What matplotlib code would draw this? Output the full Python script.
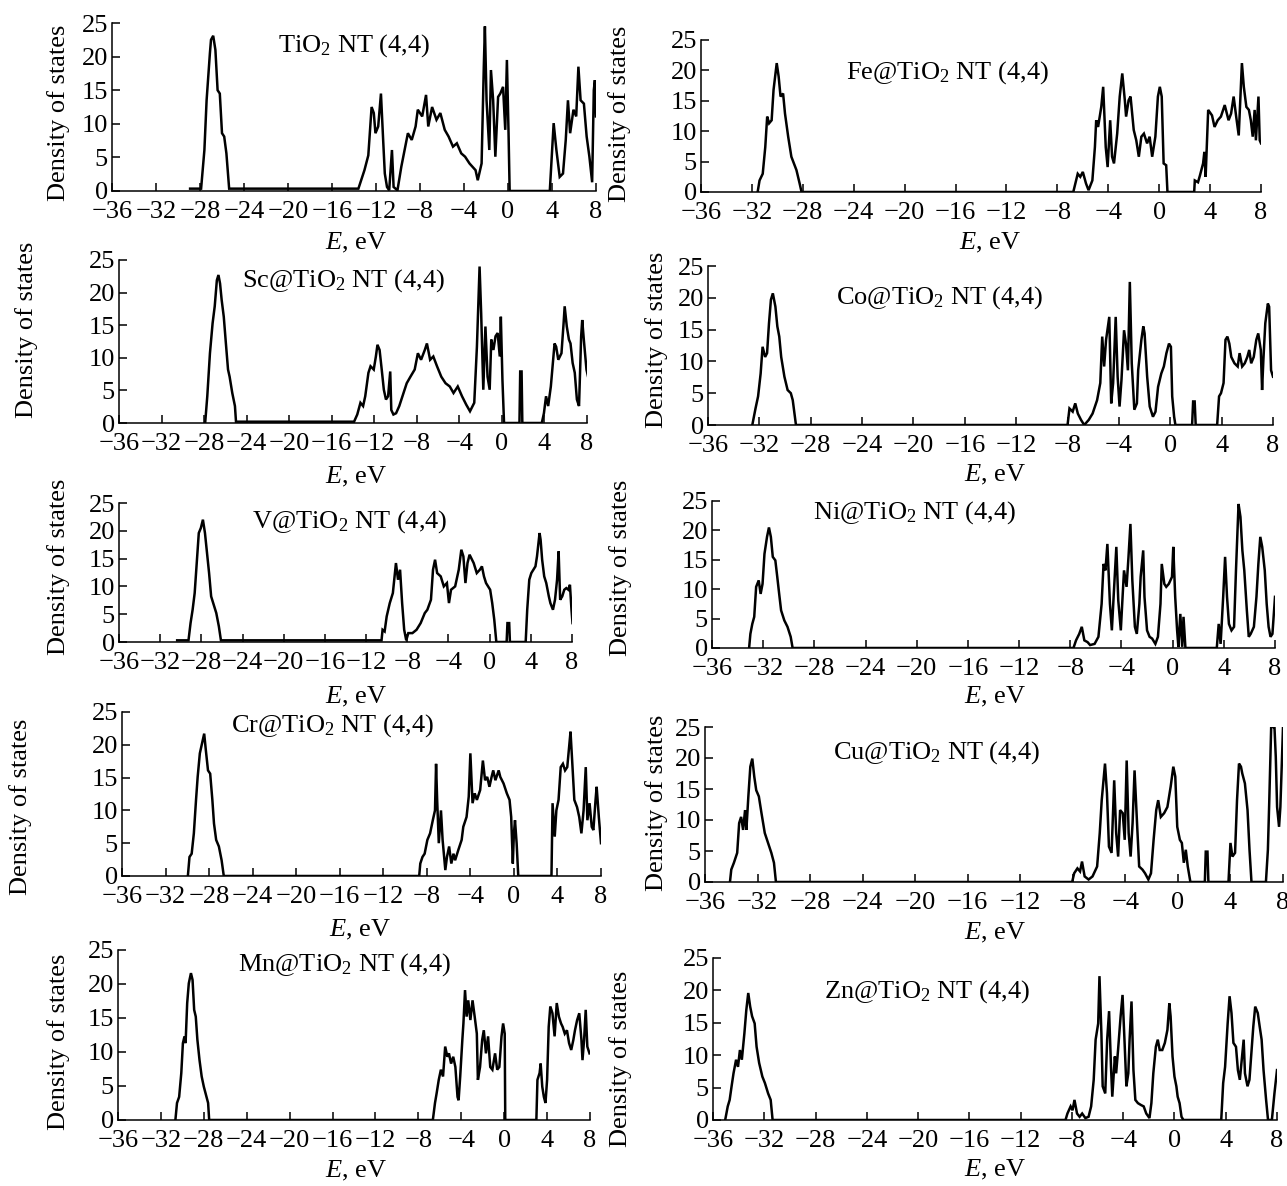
import numpy as np
import matplotlib.pyplot as plt

plt.rcParams["font.family"] = "Liberation Serif"
plt.rcParams["mathtext.fontset"] = "custom"
plt.rcParams["mathtext.rm"] = "Liberation Serif"
plt.rcParams["mathtext.it"] = "Liberation Serif:italic"
plt.rcParams["font.size"] = 19

W, H = 1287, 1186  # px, dpi 100

# ---------------- data: (E [eV], DOS) ----------------
TIO2 = [(-28.9, 0.35), (-27.9, 0.35), (-27.6, 6.1), (-27.4, 13.5), (-27.1, 20.5), (-27.0, 22.5), (-26.8, 23.1),
        (-26.6, 21.0), (-26.4, 15.0), (-26.2, 14.5), (-26.0, 8.6), (-25.8, 8.1), (-25.6, 5.6), (-25.35, 0.35),
        (-13.6, 0.35), (-13.05, 3.1), (-12.7, 5.3), (-12.4, 12.5), (-12.2, 11.6), (-12.05, 8.6), (-11.8, 9.6),
        (-11.55, 14.5), (-11.35, 7.6), (-11.2, 2.6), (-11.0, 0.6), (-10.8, 0.1), (-10.55, 6.1), (-10.4, 0.6),
        (-10.05, 0.1), (-9.7, 3.6), (-9.1, 8.6), (-8.75, 7.6), (-8.4, 9.6), (-8.2, 12.1), (-7.8, 11.1),
        (-7.45, 14.3), (-7.25, 9.6), (-6.9, 12.5), (-6.5, 10.6), (-6.15, 11.6), (-5.75, 9.1), (-5.4, 8.1),
        (-5.0, 6.6), (-4.65, 7.1), (-4.25, 5.6), (-3.9, 5.1), (-3.5, 4.1), (-2.95, 3.1), (-2.75, 1.6),
        (-2.4, 4.1), (-2.2, 18.5), (-2.1, 24.5), (-1.95, 13.5), (-1.7, 6.1), (-1.55, 18.0), (-1.35, 13.5),
        (-1.15, 5.1), (-0.9, 14.0), (-0.7, 14.5), (-0.45, 15.5), (-0.25, 9.1), (-0.1, 19.5), (0.05, 8.6),
        (0.15, 0.0), (3.8, 0.0), (4.15, 10.1), (4.4, 6.1), (4.7, 2.1), (5.0, 2.6), (5.25, 7.6), (5.45, 13.5),
        (5.65, 8.6), (5.95, 12.1), (6.2, 11.1), (6.4, 18.5), (6.6, 13.5), (6.9, 13.0), (7.15, 8.1), (7.4, 5.1),
        (7.65, 1.3), (7.8, 15.0), (7.9, 16.5), (8.0, 11.1)]

FE = [(-31.55, 0.0), (-31.4, 1.9), (-31.15, 3.0), (-30.95, 7.4), (-30.8, 12.4), (-30.65, 11.3), (-30.45, 11.8),
      (-30.3, 16.8), (-30.05, 21.2), (-29.9, 19.0), (-29.75, 15.7), (-29.55, 16.2), (-29.4, 12.9), (-29.15, 9.1),
      (-28.9, 5.8), (-28.7, 4.7), (-28.5, 3.6), (-28.25, 1.4), (-28.1, 0.0),
      (-6.75, 0.0), (-6.4, 3.0), (-6.2, 2.5), (-6.0, 3.3), (-5.75, 1.4), (-5.55, 0.3), (-5.25, 1.9), (-5.05, 7.4),
      (-4.95, 11.8), (-4.8, 10.7), (-4.55, 14.0), (-4.4, 17.3), (-4.2, 7.4), (-4.05, 4.1), (-3.85, 11.8),
      (-3.7, 5.8), (-3.55, 4.7), (-3.3, 9.6), (-3.1, 15.7), (-2.9, 19.5), (-2.7, 15.1), (-2.6, 12.4), (-2.4, 15.1),
      (-2.25, 15.7), (-2.0, 10.2), (-1.8, 8.5), (-1.6, 5.8), (-1.4, 9.1), (-1.2, 9.6), (-0.95, 8.0), (-0.75, 9.1),
      (-0.55, 5.8), (-0.3, 9.1), (-0.1, 15.7), (0.05, 17.3), (0.2, 15.7), (0.35, 4.7), (0.55, 4.4), (0.65, 0.0),
      (2.75, 0.0), (2.8, 1.9), (3.05, 1.6), (3.2, 2.7), (3.45, 4.7), (3.55, 6.6), (3.65, 2.5), (3.85, 13.5),
      (4.15, 12.6), (4.35, 10.7), (4.6, 11.8), (4.85, 12.4), (5.15, 14.3), (5.45, 11.8), (5.65, 12.9),
      (5.85, 15.7), (6.05, 12.4), (6.25, 9.3), (6.5, 21.2), (6.65, 17.3), (6.85, 14.0), (7.05, 13.5),
      (7.2, 11.8), (7.35, 9.1), (7.5, 13.5), (7.6, 8.5), (7.8, 15.7), (7.9, 8.5), (8.0, 8.0)]

SC = [(-27.9, 0.0), (-27.7, 4.1), (-27.45, 10.7), (-27.2, 15.3), (-27.0, 17.9), (-26.8, 21.9), (-26.65, 22.7),
      (-26.5, 21.4), (-26.35, 18.9), (-26.15, 16.3), (-25.95, 12.2), (-25.75, 8.2), (-25.6, 7.1), (-25.35, 4.6),
      (-25.1, 2.6), (-25.0, 0.2),
      (-13.9, 0.2), (-13.6, 1.3), (-13.3, 3.1), (-13.05, 2.6), (-12.85, 4.1), (-12.55, 7.7), (-12.35, 8.7),
      (-12.05, 8.2), (-11.85, 10.2), (-11.7, 12.0), (-11.5, 11.2), (-11.3, 8.2), (-11.1, 5.1), (-10.9, 3.6),
      (-10.7, 4.1), (-10.5, 7.9), (-10.4, 2.0), (-10.2, 1.3), (-9.95, 1.5), (-9.65, 2.6), (-9.35, 4.1),
      (-8.95, 6.1), (-8.6, 7.1), (-8.2, 8.2), (-7.9, 10.7), (-7.6, 9.7), (-7.25, 11.2), (-7.05, 12.2),
      (-6.75, 9.7), (-6.45, 10.2), (-6.1, 8.7), (-5.7, 7.1), (-5.3, 6.1), (-4.9, 5.6), (-4.55, 4.6),
      (-4.15, 5.6), (-3.75, 4.1), (-3.35, 2.8), (-3.0, 1.8), (-2.6, 3.1), (-2.35, 11.7), (-2.1, 24.0),
      (-1.95, 16.8), (-1.75, 5.1), (-1.55, 14.8), (-1.35, 7.1), (-1.15, 5.1), (-1.0, 12.8), (-0.8, 11.2),
      (-0.6, 13.3), (-0.4, 13.8), (-0.2, 10.2), (-0.1, 16.3), (0.05, 6.6), (0.2, 0.0),
      (1.65, 0.0), (1.72, 7.9), (1.85, 7.9), (1.92, 0.0),
      (3.75, 0.0), (3.95, 1.5), (4.15, 4.1), (4.35, 2.6), (4.6, 5.6), (4.95, 12.2), (5.1, 11.7), (5.3, 9.7),
      (5.6, 10.7), (5.8, 15.3), (5.9, 17.9), (6.1, 14.8), (6.3, 12.8), (6.45, 12.2), (6.65, 9.2), (6.85, 7.7),
      (7.05, 3.6), (7.25, 2.6), (7.45, 13.3), (7.55, 15.8), (7.7, 12.8), (7.95, 8.2), (8.1, 7.1)]

CO = [(-32.55, 0.0), (-32.3, 2.6), (-32.1, 4.5), (-31.9, 8.1), (-31.75, 12.3), (-31.55, 10.7), (-31.4, 11.3),
      (-31.25, 16.0), (-31.1, 19.7), (-30.95, 20.7), (-30.75, 18.6), (-30.6, 15.5), (-30.45, 13.9),
      (-30.3, 10.7), (-30.05, 7.6), (-29.8, 5.5), (-29.55, 5.0), (-29.4, 3.9), (-29.15, 0.0),
      (-8.0, 0.0), (-7.85, 2.6), (-7.6, 2.1), (-7.4, 3.4), (-7.2, 1.8), (-6.95, 0.8), (-6.7, 0.0), (-6.35, 0.8),
      (-6.05, 1.8), (-5.7, 3.9), (-5.45, 6.6), (-5.3, 13.9), (-5.15, 9.2), (-5.0, 13.4), (-4.75, 17.0),
      (-4.6, 3.4), (-4.45, 6.6), (-4.25, 17.0), (-4.1, 7.6), (-3.95, 2.9), (-3.8, 7.1), (-3.6, 14.9),
      (-3.45, 12.8), (-3.3, 8.6), (-3.15, 22.5), (-3.0, 9.7), (-2.8, 2.4), (-2.6, 3.4), (-2.5, 8.6),
      (-2.25, 13.4), (-2.1, 15.5), (-2.0, 14.4), (-1.8, 7.6), (-1.6, 2.9), (-1.35, 1.3), (-1.15, 2.1),
      (-0.95, 6.0), (-0.7, 8.1), (-0.5, 9.2), (-0.3, 11.3), (-0.1, 12.8), (0.05, 12.3), (0.15, 4.5),
      (0.3, 1.3), (0.4, 0.0),
      (1.7, 0.0), (1.78, 3.7), (1.9, 3.7), (1.98, 0.0),
      (3.65, 0.0), (3.8, 4.5), (3.95, 5.0), (4.15, 6.6), (4.3, 13.4), (4.45, 13.9), (4.6, 12.8), (4.75, 10.7),
      (5.0, 9.7), (5.25, 9.2), (5.4, 11.3), (5.6, 9.2), (5.8, 9.7), (6.0, 10.7), (6.15, 11.8), (6.3, 9.7),
      (6.5, 10.7), (6.7, 13.4), (6.85, 14.4), (7.05, 11.8), (7.15, 5.5), (7.25, 10.2), (7.4, 16.0),
      (7.6, 19.1), (7.7, 18.6), (7.85, 8.6), (8.0, 7.6)]

V = [(-30.35, 0.3), (-29.25, 0.3), (-29.05, 3.4), (-28.85, 5.8), (-28.65, 8.8), (-28.45, 14.2), (-28.25, 19.6),
     (-28.05, 20.5), (-27.85, 22.0), (-27.65, 19.6), (-27.45, 16.0), (-27.25, 12.4), (-27.05, 8.2),
     (-26.85, 7.0), (-26.55, 5.2), (-26.3, 2.8), (-26.1, 0.3),
     (-10.5, 0.3), (-10.4, 2.2), (-10.2, 1.9), (-10.0, 4.6), (-9.7, 7.0), (-9.4, 8.8), (-9.1, 14.2),
     (-8.9, 11.2), (-8.7, 13.0), (-8.5, 7.0), (-8.3, 2.2), (-8.1, 0.3), (-7.9, 1.6), (-7.5, 1.6), (-7.1, 2.2),
     (-6.7, 3.4), (-6.3, 5.2), (-6.05, 5.8), (-5.7, 7.6), (-5.5, 13.0), (-5.3, 14.8), (-5.1, 12.4),
     (-4.75, 11.8), (-4.45, 10.0), (-4.15, 10.6), (-3.95, 7.0), (-3.75, 9.4), (-3.35, 10.0), (-3.0, 13.0),
     (-2.75, 16.6), (-2.55, 15.4), (-2.35, 10.6), (-2.15, 14.2), (-1.95, 15.7), (-1.55, 14.2), (-1.25, 12.4),
     (-0.95, 13.0), (-0.75, 13.6), (-0.55, 11.8), (-0.35, 10.6), (0.05, 9.4), (0.25, 7.0), (0.45, 4.0),
     (0.65, 0.0),
     (1.65, 0.0), (1.73, 3.4), (1.9, 3.4), (1.97, 0.0),
     (3.5, 0.0), (3.65, 5.8), (3.85, 11.2), (4.05, 12.4), (4.25, 13.0), (4.45, 13.6), (4.6, 15.4),
     (4.85, 19.6), (4.95, 18.4), (5.1, 14.8), (5.3, 11.8), (5.5, 10.6), (5.75, 8.2), (5.9, 7.0), (6.15, 5.8),
     (6.35, 7.6), (6.55, 11.2), (6.7, 16.3), (6.85, 7.6), (7.05, 8.2), (7.25, 9.4), (7.45, 9.7), (7.65, 9.4),
     (7.8, 10.3), (7.95, 5.8), (8.05, 3.4)]

NI = [(-33.1, 0.0), (-33.0, 2.4), (-32.85, 4.1), (-32.7, 5.3), (-32.55, 10.4), (-32.35, 11.5), (-32.2, 9.2),
      (-32.05, 10.9), (-31.9, 16.0), (-31.7, 18.9), (-31.55, 20.5), (-31.4, 18.9), (-31.25, 15.5),
      (-31.05, 14.9), (-30.9, 12.1), (-30.75, 9.2), (-30.6, 6.4), (-30.35, 4.7), (-30.1, 3.6), (-29.85, 1.9),
      (-29.7, 0.0),
      (-7.75, 0.0), (-7.55, 1.3), (-7.3, 2.4), (-7.1, 3.6), (-6.9, 1.3), (-6.65, 1.0), (-6.45, 0.5),
      (-6.1, 0.7), (-5.8, 1.9), (-5.55, 7.5), (-5.4, 14.3), (-5.25, 13.2), (-5.1, 17.7), (-4.9, 7.5),
      (-4.75, 3.0), (-4.6, 9.2), (-4.4, 17.2), (-4.25, 8.1), (-4.05, 3.0), (-3.9, 9.2), (-3.8, 13.2),
      (-3.6, 10.4), (-3.45, 15.5), (-3.3, 21.1), (-3.15, 11.5), (-2.95, 3.6), (-2.8, 2.4), (-2.6, 7.5),
      (-2.5, 12.1), (-2.3, 16.6), (-2.2, 8.7), (-2.0, 3.0), (-1.8, 1.9), (-1.6, 1.6), (-1.35, 0.7),
      (-1.15, 1.9), (-0.95, 7.5), (-0.85, 14.3), (-0.65, 10.9), (-0.5, 10.4), (-0.3, 10.9), (-0.05, 12.1),
      (0.05, 17.2), (0.2, 8.7), (0.35, 3.0), (0.45, 0.2), (0.6, 5.8), (0.75, 0.2), (0.85, 5.3), (1.0, 0.0),
      (3.45, 0.0), (3.6, 4.1), (3.75, 0.7), (3.95, 8.7), (4.1, 15.5), (4.25, 8.7), (4.4, 4.1), (4.6, 3.0),
      (4.8, 3.6), (4.95, 13.2), (5.15, 24.5), (5.3, 22.3), (5.45, 16.6), (5.6, 13.2), (5.8, 6.4), (5.95, 1.9),
      (6.1, 2.4), (6.35, 3.6), (6.55, 8.7), (6.7, 14.3), (6.85, 18.9), (7.0, 17.2), (7.2, 13.2), (7.35, 7.5),
      (7.5, 3.6), (7.65, 1.9), (7.8, 2.4), (8.0, 8.7)]

CR = [(-29.95, 0.0), (-29.8, 2.9), (-29.6, 3.4), (-29.4, 6.5), (-29.2, 11.6), (-29.05, 15.1), (-28.85, 18.7),
      (-28.65, 20.2), (-28.45, 21.7), (-28.3, 19.2), (-28.1, 16.1), (-27.9, 15.6), (-27.7, 11.6), (-27.55, 8.0),
      (-27.35, 5.5), (-27.1, 4.5), (-26.85, 2.4), (-26.65, 0.0),
      (-8.7, 0.0), (-8.6, 1.9), (-8.4, 2.9), (-8.2, 3.4), (-7.95, 5.5), (-7.7, 6.5), (-7.45, 8.5), (-7.25, 10.0),
      (-7.15, 17.1), (-7.05, 11.6), (-6.9, 5.0), (-6.7, 10.0), (-6.55, 5.5), (-6.3, 0.9), (-6.15, 2.9),
      (-5.95, 4.5), (-5.75, 1.9), (-5.55, 3.4), (-5.4, 2.4), (-5.1, 4.0), (-4.8, 5.5), (-4.65, 7.5),
      (-4.35, 9.0), (-4.15, 12.1), (-4.0, 18.7), (-3.8, 11.1), (-3.6, 12.6), (-3.4, 11.6), (-3.1, 13.1),
      (-2.85, 17.6), (-2.65, 14.6), (-2.45, 15.1), (-2.25, 13.6), (-2.05, 15.1), (-1.9, 16.1), (-1.7, 14.6),
      (-1.4, 16.1), (-1.25, 15.1), (-0.95, 14.1), (-0.65, 12.6), (-0.4, 11.6), (-0.25, 9.0), (-0.1, 1.9),
      (0.0, 6.5), (0.1, 8.5), (0.25, 5.0), (0.4, 0.0),
      (3.45, 0.0), (3.55, 11.1), (3.75, 6.0), (3.9, 10.0), (4.1, 11.6), (4.3, 16.6), (4.5, 17.1), (4.7, 16.1),
      (4.9, 16.6), (5.1, 20.2), (5.2, 22.0), (5.35, 17.6), (5.55, 11.6), (5.8, 10.5), (6.0, 9.0), (6.2, 6.5),
      (6.4, 10.0), (6.6, 16.6), (6.75, 8.5), (6.95, 11.1), (7.15, 7.5), (7.3, 7.0), (7.5, 11.6), (7.6, 13.6),
      (7.8, 9.0), (8.0, 5.0)]

CU = [(-34.1, 0.0), (-34.0, 2.0), (-33.8, 3.1), (-33.55, 4.7), (-33.4, 9.5), (-33.25, 10.5), (-33.1, 8.4),
      (-32.95, 11.6), (-32.85, 8.4), (-32.7, 13.8), (-32.55, 18.6), (-32.4, 19.9), (-32.25, 17.0),
      (-32.1, 14.8), (-31.9, 13.8), (-31.7, 11.1), (-31.45, 7.9), (-31.2, 6.3), (-30.95, 4.7), (-30.75, 3.1),
      (-30.6, 0.0),
      (-8.05, 0.0), (-7.9, 1.4), (-7.65, 2.2), (-7.45, 1.7), (-7.3, 3.3), (-7.1, 0.9), (-6.8, 0.4), (-6.5, 0.9),
      (-6.15, 2.5), (-5.95, 7.9), (-5.8, 13.2), (-5.55, 19.1), (-5.4, 14.3), (-5.25, 5.7), (-5.05, 4.7),
      (-4.85, 16.4), (-4.7, 7.9), (-4.55, 4.1), (-4.4, 11.6), (-4.2, 11.1), (-4.05, 6.8), (-3.9, 19.6),
      (-3.75, 7.9), (-3.6, 4.1), (-3.45, 9.5), (-3.3, 18.0), (-3.1, 9.0), (-2.95, 2.5), (-2.7, 2.0),
      (-2.5, 1.4), (-2.25, 0.4), (-2.05, 1.4), (-1.85, 6.8), (-1.65, 11.6), (-1.5, 13.2), (-1.3, 10.5),
      (-1.05, 11.1), (-0.8, 12.1), (-0.55, 15.4), (-0.35, 18.6), (-0.2, 17.0), (-0.05, 8.9), (0.15, 6.8),
      (0.3, 6.3), (0.45, 3.1), (0.6, 5.2), (0.75, 2.5), (0.95, 0.0),
      (2.05, 0.0), (2.12, 4.9), (2.25, 4.9), (2.32, 0.0),
      (3.85, 0.0), (4.0, 6.3), (4.15, 4.1), (4.35, 4.7), (4.5, 13.2), (4.65, 19.1), (4.8, 18.6), (4.9, 17.5),
      (5.1, 15.9), (5.3, 11.6), (5.45, 5.2), (5.6, 0.0),
      (6.7, 0.0), (6.85, 5.2), (6.95, 12.7), (7.1, 25.0), (7.25, 25.0), (7.35, 25.0), (7.45, 20.2),
      (7.55, 12.1), (7.7, 8.9), (7.8, 12.1), (7.9, 18.5), (8.0, 25.0), (8.1, 25.0)]

MN = [(-30.65, 0.0), (-30.5, 2.5), (-30.3, 3.4), (-30.1, 6.9), (-29.95, 11.3), (-29.8, 12.3), (-29.7, 11.3),
      (-29.55, 17.2), (-29.4, 20.1), (-29.2, 21.6), (-29.05, 20.6), (-28.9, 16.2), (-28.75, 15.2),
      (-28.6, 11.8), (-28.4, 8.8), (-28.2, 6.4), (-28.0, 4.9), (-27.75, 3.4), (-27.6, 2.5), (-27.5, 0.0),
      (-6.65, 0.0), (-6.45, 2.5), (-6.3, 3.9), (-6.1, 5.9), (-5.9, 7.4), (-5.7, 6.4), (-5.5, 10.8), (-5.3, 9.3),
      (-5.15, 9.8), (-4.95, 8.3), (-4.75, 9.3), (-4.55, 7.8), (-4.35, 3.4), (-4.25, 2.9), (-4.1, 6.4),
      (-3.9, 11.8), (-3.8, 14.2), (-3.65, 19.1), (-3.5, 15.2), (-3.35, 17.6), (-3.15, 14.7), (-2.95, 17.6),
      (-2.75, 15.2), (-2.55, 12.7), (-2.45, 5.9), (-2.25, 7.8), (-2.05, 11.8), (-1.9, 13.2), (-1.7, 9.8),
      (-1.5, 12.3), (-1.3, 7.8), (-1.1, 7.4), (-0.85, 9.8), (-0.65, 7.4), (-0.45, 7.8), (-0.25, 12.3),
      (-0.1, 14.2), (0.05, 12.7), (0.1, 0.0),
      (3.0, 0.0), (3.1, 5.9), (3.3, 6.9), (3.4, 8.3), (3.55, 4.9), (3.7, 3.4), (3.85, 2.5), (4.0, 5.9),
      (4.15, 13.7), (4.3, 16.7), (4.5, 15.7), (4.7, 12.3), (4.9, 17.2), (5.1, 15.2), (5.3, 14.2), (5.45, 13.7),
      (5.65, 12.7), (5.85, 13.2), (6.05, 11.3), (6.25, 10.3), (6.45, 11.8), (6.6, 13.2), (6.8, 14.7),
      (7.0, 15.7), (7.2, 11.8), (7.3, 8.8), (7.45, 11.8), (7.6, 16.2), (7.75, 10.8), (7.95, 9.8)]

ZN = [(-35.05, 0.0), (-34.85, 2.1), (-34.7, 3.1), (-34.55, 5.2), (-34.4, 7.2), (-34.2, 9.3), (-34.05, 8.2),
      (-33.9, 10.8), (-33.75, 9.3), (-33.55, 13.4), (-33.4, 17.0), (-33.25, 19.6), (-33.1, 17.5),
      (-32.95, 16.0), (-32.75, 14.9), (-32.6, 11.3), (-32.4, 8.8), (-32.15, 6.7), (-31.95, 5.7), (-31.7, 4.1),
      (-31.5, 3.1), (-31.35, 0.0),
      (-8.5, 0.0), (-8.35, 1.0), (-8.1, 2.1), (-7.95, 1.5), (-7.8, 3.1), (-7.6, 1.0), (-7.4, 0.5), (-7.2, 1.0),
      (-6.95, 0.3), (-6.7, 0.5), (-6.5, 2.1), (-6.3, 6.2), (-6.15, 12.4), (-5.95, 14.9), (-5.85, 22.2),
      (-5.7, 13.4), (-5.6, 5.2), (-5.4, 4.1), (-5.25, 12.4), (-5.1, 16.8), (-4.95, 8.2), (-4.85, 3.6),
      (-4.65, 9.8), (-4.55, 7.2), (-4.4, 10.8), (-4.2, 16.0), (-4.05, 19.3), (-3.9, 12.4), (-3.75, 5.2),
      (-3.6, 7.2), (-3.5, 12.4), (-3.35, 18.3), (-3.2, 7.7), (-3.05, 3.1), (-2.85, 2.6), (-2.6, 2.3),
      (-2.4, 2.1), (-2.2, 1.0), (-1.95, 0.3), (-1.8, 2.6), (-1.65, 7.2), (-1.45, 11.3), (-1.3, 12.4),
      (-1.15, 10.8), (-0.95, 10.8), (-0.75, 11.9), (-0.55, 13.9), (-0.4, 18.0), (-0.3, 16.0), (-0.15, 9.8),
      (0.0, 6.7), (0.15, 5.2), (0.25, 3.6), (0.4, 2.6), (0.55, 0.5), (0.7, 0.0),
      (3.65, 0.0), (3.8, 5.7), (3.95, 8.2), (4.15, 14.9), (4.3, 19.1), (4.45, 16.5), (4.6, 11.9), (4.8, 11.3),
      (4.95, 7.7), (5.1, 6.2), (5.25, 9.3), (5.4, 12.4), (5.5, 7.2), (5.7, 5.2), (5.85, 6.2), (6.0, 10.3),
      (6.15, 14.4), (6.3, 17.5), (6.5, 16.5), (6.65, 14.4), (6.8, 12.4), (6.95, 7.7), (7.15, 3.1), (7.3, 0.0),
      (7.6, 0.0), (7.8, 4.1), (8.0, 7.7)]

LABELS = ["TiO$_2$ NT (4,4)", "Sc@TiO$_2$ NT (4,4)", "V@TiO$_2$ NT (4,4)", "Cr@TiO$_2$ NT (4,4)",
          "Mn@TiO$_2$ NT (4,4)", "Fe@TiO$_2$ NT (4,4)", "Co@TiO$_2$ NT (4,4)", "Ni@TiO$_2$ NT (4,4)",
          "Cu@TiO$_2$ NT (4,4)", "Zn@TiO$_2$ NT (4,4)"]
SERIES = [TIO2, SC, V, CR, MN, FE, CO, NI, CU, ZN]

XTICKS = list(range(-36, 9, 4))
YTICKS = [0, 5, 10, 15, 20, 25]

# ---------------- layout (pixels) ----------------
# axes box: left, right, top (y=25), bottom (y=0)
BOXES = [(112, 596, 23, 191), (119, 587, 260, 423), (119, 572, 503, 642), (122, 601, 712, 876),
         (118, 590, 950, 1120), (701, 1261, 40, 192), (708, 1273, 266, 425), (712, 1275, 501, 648),
         (705, 1283, 727, 882), (713, 1277, 958, 1120)]
YLAB = [(59, 113), (27, 330), (59, 567), (21, 807), (59, 1042),
        (620, 114), (657, 340), (621, 568), (657, 803), (621, 1059)]
XLAB = [(356, 243), (356, 477), (356, 697), (360, 930), (356, 1171),
        (990, 243), (995, 475), (995, 697), (995, 933), (995, 1170)]
# title position, axes fraction
TPOS = [(0.50, 0.868), (0.48, 0.876), (0.51, 0.864), (0.44, 0.92), (0.48, 0.912),
        (0.44, 0.788), (0.41, 0.80), (0.36, 0.92), (0.40, 0.832), (0.38, 0.792)]


def fx(px):
    return px / W


def fy(py):
    return 1 - py / H


fig = plt.figure(figsize=(W / 100, H / 100), dpi=100)

for i, data in enumerate(SERIES):
    l, r, t, b = BOXES[i]
    ax = fig.add_axes([fx(l), fy(b), (r - l) / W, (b - t) / H])
    e = np.array([p[0] for p in data])
    d = np.array([p[1] for p in data])
    ax.plot(e, d, color="black", lw=1.8, solid_joinstyle="miter")
    ax.set_xlim(-36, 8)
    ax.set_ylim(0, 25)
    ax.set_xticks(XTICKS)
    ax.set_yticks(YTICKS)
    ax.spines["top"].set_visible(False)
    ax.spines["right"].set_visible(False)
    for s in ("left", "bottom"):
        ax.spines[s].set_linewidth(1.1)
    ax.tick_params(axis="x", direction="in", length=6, width=1.1, pad=7, labelsize=19)
    ax.tick_params(axis="y", direction="in", length=6, width=1.1, pad=3, labelsize=19)
    ax.patch.set_alpha(0)
    tx, ty = TPOS[i]
    ax.text(tx, ty, LABELS[i], transform=ax.transAxes, ha="center", va="center", fontsize=19)
    yx, yy = YLAB[i]
    fig.text(fx(yx), fy(yy), "Density of states", rotation=90, ha="center", va="center", fontsize=19)
    xx, xy = XLAB[i]
    fig.text(fx(xx), fy(xy), "$E$, eV", ha="center", va="center", fontsize=19)

fig.savefig("out.png", dpi=100)
